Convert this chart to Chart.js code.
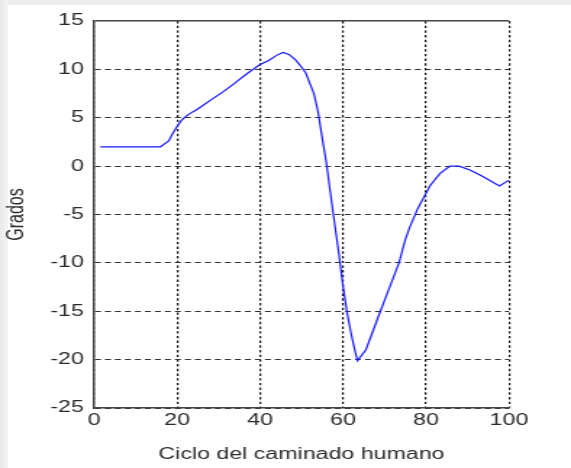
<!DOCTYPE html>
<html>
<head>
<meta charset="utf-8">
<title>Ciclo del caminado humano</title>
<script src="https://cdn.jsdelivr.net/npm/chart.js@4"></script>
<style>
  html, body { margin: 0; padding: 0; width: 571px; height: 468px; overflow: hidden; background: #fff; }
  .strip-top { position: absolute; left: 0; top: 0; width: 571px; height: 5px; background: #ececec; }
  .strip-left { position: absolute; left: 0; top: 0; width: 8px; height: 468px; background: linear-gradient(to right, #e9e9e9, #f4f4f4); }
  /* the figure is rendered narrow and widened horizontally */
  #chart { position: absolute; left: 0; top: 0; transform-origin: 0 0; transform: scaleX(1.44924); }
</style>
</head>
<body>
<div class="strip-top"></div>
<div class="strip-left"></div>
<canvas id="chart" width="394" height="468"></canvas>
<script>
// Knee angle over one gait cycle (% of cycle vs degrees)
const cyclePct = [1.5, 16, 17, 18, 19, 20, 21, 22, 23, 25, 28, 31, 34, 37, 40, 42, 44, 45.5, 47, 48.5,
                  50, 51, 52, 53, 54, 55, 56, 57, 58, 59, 60, 61, 62, 63, 63.5, 65.5, 67, 69, 71, 73.5,
                  75, 76, 78, 79.5, 81, 83.4, 85.8, 88, 90.6, 93.8, 97.7, 100];
const angleDeg = [2, 2, 2.3, 2.6, 3.4, 4.1, 4.7, 5.1, 5.4, 5.9, 6.8, 7.65, 8.6, 9.6, 10.5, 10.9, 11.45, 11.75, 11.55, 11.0,
                  10.25, 9.65, 8.55, 7.5, 5.6, 2.9, 0.3, -2.9, -6.0, -9.0, -12.4, -15.2, -17.4, -19.3, -20.1, -19.0, -17.3, -15.0, -12.8, -10.0,
                  -7.6, -6.4, -4.4, -3.2, -2.0, -0.75, 0, 0, -0.4, -1.1, -2.05, -1.45];

const xTickValues = [0, 20, 40, 60, 80, 100];
const yTickValues = [-25, -20, -15, -10, -5, 0, 5, 10, 15];

const xLabel = 'Ciclo del caminado humano';
const yLabel = 'Grados';

const points = cyclePct.map((x, i) => ({ x, y: angleDeg[i] }));
const fontFamily = '"Liberation Sans", Arial, Helvetica, sans-serif';
const textColor = '#2b2b2b';

new Chart(document.getElementById('chart'), {
  type: 'line',
  data: {
    datasets: [{
      data: points,
      borderColor: 'rgb(24,24,255)',
      borderWidth: 1.2,
      pointRadius: 0,
      tension: 0,
      fill: false
    }]
  },
  options: {
    responsive: false,
    animation: false,
    devicePixelRatio: 1,
    layout: { padding: { left: 0, top: 21, right: 42.8, bottom: 0 } },
    plugins: { legend: { display: false }, tooltip: { enabled: false } },
    scales: {
      x: {
        type: 'linear',
        min: xTickValues[0],
        max: xTickValues[xTickValues.length - 1],
        afterBuildTicks: s => { s.ticks = xTickValues.map(v => ({ value: v })); },
        afterFit: s => { s.height = 60; },
        ticks: {
          padding: 3,
          color: textColor,
          font: { family: fontFamily, size: 16 },
          maxRotation: 0
        },
        grid: { color: '#111', lineWidth: 1.2, drawTicks: false },
        border: { display: true, color: '#444', width: 1.5, dash: [2.4, 2.3] },
        title: {
          display: true,
          text: xLabel,
          color: textColor,
          font: { family: fontFamily, size: 16 },
          padding: { top: 0, bottom: 3.4 }
        }
      },
      y: {
        type: 'linear',
        min: yTickValues[0],
        max: yTickValues[yTickValues.length - 1],
        afterBuildTicks: s => { s.ticks = yTickValues.map(v => ({ value: v })); },
        afterFit: s => { s.width = 64.86; },
        ticks: {
          padding: 7,
          color: textColor,
          font: { family: fontFamily, size: 16 }
        },
        grid: {
          color: ctx => ctx.tick && ctx.tick.value === 15 ? '#444' : '#333',
          lineWidth: ctx => ctx.tick && ctx.tick.value === 15 ? 1.6 : 1,
          drawTicks: false
        },
        border: {
          display: true, color: '#444', width: 1.5,
          dash: ctx => ctx.tick && ctx.tick.value === 15 ? [] : [4.1, 2.8]
        },
        title: {
          display: true,
          text: yLabel,
          color: textColor,
          font: { family: fontFamily, size: 16 },
          padding: { top: 2, bottom: 0 }
        }
      }
    }
  }
});
</script>
</body>
</html>
